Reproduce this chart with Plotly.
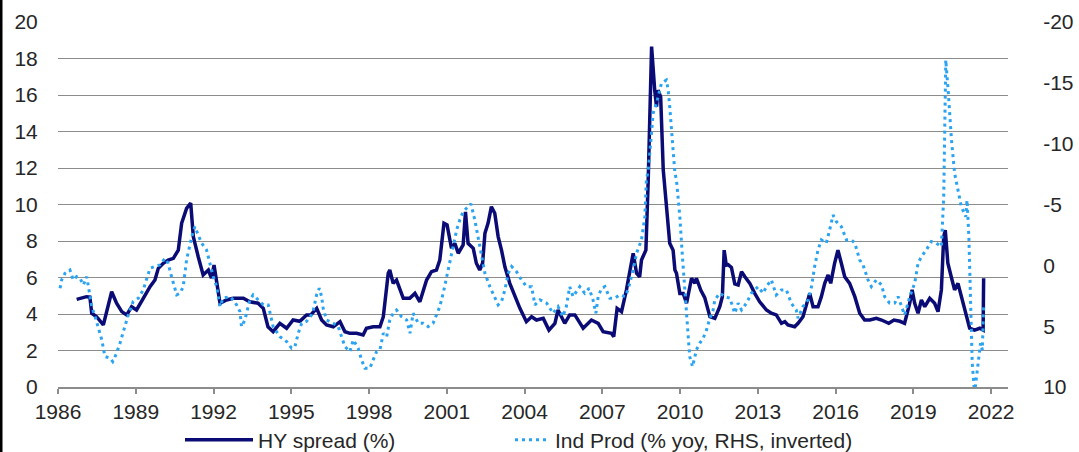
import plotly.graph_objects as go

# HY spread (%), left axis
hy_x = [1986.72, 1986.91, 1987.10, 1987.23, 1987.30, 1987.49, 1987.75, 1988.07, 1988.26, 1988.46,
        1988.65, 1988.84, 1989.03, 1989.29, 1989.55, 1989.74, 1989.87, 1990.06, 1990.25, 1990.45,
        1990.64, 1990.77, 1990.96, 1991.12, 1991.22, 1991.41, 1991.60, 1991.80, 1991.92, 1992.02,
        1992.25, 1992.50, 1992.76, 1993.15, 1993.40, 1993.72, 1993.92, 1994.10, 1994.30, 1994.56,
        1994.82, 1995.07, 1995.33, 1995.59, 1995.75, 1995.98, 1996.17, 1996.36, 1996.62, 1996.88,
        1997.07, 1997.26, 1997.52, 1997.77, 1997.90, 1998.16, 1998.42, 1998.55, 1998.74, 1998.80,
        1998.93, 1999.06, 1999.19, 1999.32, 1999.57, 1999.77, 1999.96, 2000.22, 2000.41, 2000.60,
        2000.73, 2000.89, 2001.01, 2001.18, 2001.31, 2001.44, 2001.63, 2001.72, 2001.82, 2002.02,
        2002.14, 2002.27, 2002.38, 2002.47, 2002.59, 2002.72, 2002.85, 2002.98, 2003.11, 2003.24,
        2003.43, 2003.62, 2003.82, 2004.07, 2004.27, 2004.46, 2004.72, 2004.94, 2005.17, 2005.29,
        2005.55, 2005.74, 2005.94, 2006.26, 2006.58, 2006.84, 2007.03, 2007.35, 2007.44, 2007.57,
        2007.74, 2007.93, 2008.06, 2008.19, 2008.32, 2008.44, 2008.51, 2008.68, 2008.77, 2008.90,
        2009.02, 2009.09, 2009.15, 2009.25, 2009.35, 2009.48, 2009.60, 2009.73, 2009.80, 2009.86,
        2009.99, 2010.12, 2010.25, 2010.44, 2010.57, 2010.63, 2010.80, 2010.95, 2011.15, 2011.34,
        2011.53, 2011.63, 2011.70, 2011.78, 2011.85, 2011.98, 2012.11, 2012.24, 2012.37, 2012.50,
        2012.69, 2012.88, 2013.07, 2013.33, 2013.52, 2013.71, 2013.91, 2014.04, 2014.16, 2014.42,
        2014.55, 2014.74, 2015.00, 2015.13, 2015.32, 2015.45, 2015.58, 2015.71, 2015.81, 2015.96,
        2016.09, 2016.22, 2016.35, 2016.54, 2016.74, 2016.93, 2017.12, 2017.32, 2017.57, 2017.77,
        2018.05, 2018.25, 2018.48, 2018.66, 2018.86, 2018.95, 2019.05, 2019.18, 2019.31, 2019.44,
        2019.63, 2019.82, 2019.95, 2020.08, 2020.17, 2020.23, 2020.33, 2020.46, 2020.59, 2020.72,
        2020.85, 2021.04, 2021.17, 2021.36, 2021.56, 2021.69, 2021.71]
hy_y = [4.80, 4.86, 4.95, 4.93, 4.04, 3.85, 3.40, 5.22, 4.59, 4.13,
        3.95, 4.40, 4.22, 4.86, 5.50, 5.86, 6.50, 6.78, 6.96, 7.05,
        7.50, 8.97, 9.79, 10.07, 8.24, 7.14, 6.14, 6.41, 5.96, 6.68,
        4.59, 4.77, 4.86, 4.86, 4.67, 4.59, 4.31, 3.30, 3.03, 3.49,
        3.22, 3.67, 3.60, 3.95, 3.95, 4.31, 3.67, 3.40, 3.30, 3.58,
        3.03, 2.94, 2.94, 2.85, 3.22, 3.30, 3.30, 3.85, 6.23, 6.41,
        5.68, 5.86, 5.41, 4.86, 4.86, 5.13, 4.67, 5.86, 6.32, 6.41,
        6.96, 8.97, 8.88, 7.60, 7.87, 7.33, 7.78, 9.60, 7.87, 7.60,
        6.78, 6.41, 6.78, 8.42, 8.97, 9.88, 9.52, 8.24, 7.50, 6.59,
        5.68, 4.95, 4.31, 3.58, 3.85, 3.67, 3.76, 3.12, 3.49, 4.22,
        3.49, 3.95, 3.95, 3.22, 3.67, 3.49, 3.03, 2.94, 2.76, 4.31,
        4.13, 5.32, 6.23, 7.33, 6.23, 6.04, 6.96, 7.50, 11.34, 18.65,
        16.27, 15.36, 16.27, 15.90, 11.89, 9.88, 7.87, 7.50, 6.41, 6.23,
        5.13, 5.13, 4.59, 5.96, 5.68, 5.96, 5.30, 4.90, 3.85, 3.76,
        4.40, 4.95, 7.50, 6.68, 6.70, 6.55, 5.65, 5.59, 6.32, 6.04,
        5.68, 5.13, 4.67, 4.22, 4.04, 3.95, 3.49, 3.58, 3.40, 3.30,
        3.49, 3.85, 5.13, 4.40, 4.40, 4.95, 5.68, 6.14, 5.68, 6.78,
        7.50, 6.78, 6.04, 5.68, 4.95, 4.04, 3.67, 3.67, 3.76, 3.67,
        3.49, 3.67, 3.60, 3.49, 4.59, 5.32, 4.59, 4.04, 4.77, 4.40,
        4.86, 4.59, 4.13, 5.32, 8.24, 8.60, 6.78, 6.04, 5.32, 5.68,
        4.95, 3.85, 3.22, 3.12, 3.22, 3.12, 5.96]

# Industrial production (% yoy), right axis inverted
ip_x = [1986.08, 1986.14, 1986.27, 1986.46, 1986.59, 1986.72, 1986.85, 1986.98, 1987.11, 1987.21,
        1987.30, 1987.43, 1987.55, 1987.69, 1987.81, 1988.01, 1988.11, 1988.26, 1988.39, 1988.58,
        1988.71, 1988.90, 1989.10, 1989.29, 1989.55, 1989.74, 1989.93, 1990.13, 1990.25, 1990.38,
        1990.58, 1990.71, 1990.83, 1990.96, 1991.16, 1991.28, 1991.41, 1991.54, 1991.73, 1991.86,
        1991.99, 1992.12, 1992.25, 1992.37, 1992.63, 1992.76, 1992.89, 1993.02, 1993.08, 1993.21,
        1993.40, 1993.53, 1993.72, 1993.92, 1994.11, 1994.30, 1994.56, 1994.82, 1995.01, 1995.14,
        1995.27, 1995.40, 1995.59, 1995.78, 1995.85, 1995.98, 1996.08, 1996.17, 1996.23, 1996.36,
        1996.62, 1996.81, 1996.94, 1997.07, 1997.26, 1997.39, 1997.58, 1997.71, 1997.84, 1998.03,
        1998.16, 1998.29, 1998.42, 1998.55, 1998.68, 1998.80, 1998.93, 1999.06, 1999.25, 1999.45,
        1999.58, 1999.70, 1999.90, 2000.09, 2000.28, 2000.47, 2000.60, 2000.73, 2000.86, 2000.99,
        2001.12, 2001.24, 2001.38, 2001.50, 2001.63, 2001.76, 2001.93, 2002.08, 2002.21, 2002.34,
        2002.47, 2002.66, 2002.85, 2002.98, 2003.11, 2003.24, 2003.37, 2003.50, 2003.69, 2003.88,
        2004.08, 2004.27, 2004.40, 2004.59, 2004.85, 2005.10, 2005.29, 2005.48, 2005.61, 2005.74,
        2005.87, 2006.13, 2006.32, 2006.49, 2006.64, 2006.75, 2006.84, 2006.97, 2007.10, 2007.29,
        2007.48, 2007.67, 2007.87, 2007.99, 2008.19, 2008.32, 2008.51, 2008.64, 2008.70, 2008.77,
        2008.83, 2008.90, 2008.96, 2009.09, 2009.28, 2009.47, 2009.54, 2009.60, 2009.71, 2009.80,
        2009.86, 2009.99, 2010.09, 2010.18, 2010.25, 2010.31, 2010.37, 2010.48, 2010.63, 2010.76,
        2010.89, 2011.02, 2011.14, 2011.27, 2011.34, 2011.53, 2011.72, 2011.92, 2012.04, 2012.11,
        2012.24, 2012.37, 2012.56, 2012.75, 2012.88, 2013.01, 2013.20, 2013.33, 2013.52, 2013.71,
        2013.91, 2014.10, 2014.29, 2014.48, 2014.55, 2014.74, 2014.94, 2015.07, 2015.19, 2015.32,
        2015.45, 2015.64, 2015.77, 2015.90, 2016.03, 2016.22, 2016.42, 2016.61, 2016.74, 2016.93,
        2017.06, 2017.25, 2017.38, 2017.57, 2017.77, 2017.89, 2018.08, 2018.28, 2018.41, 2018.54,
        2018.66, 2018.86, 2019.05, 2019.18, 2019.31, 2019.50, 2019.69, 2019.89, 2020.08, 2020.17,
        2020.21, 2020.25, 2020.34, 2020.47, 2020.59, 2020.72, 2020.85, 2021.02, 2021.07, 2021.14,
        2021.20, 2021.27, 2021.36, 2021.49, 2021.59, 2021.66, 2021.71]
ip_y = [1.88, 1.20, 0.65, 0.38, 1.20, 0.93, 1.06, 1.61, 0.93, 2.16,
        3.39, 4.21, 5.04, 6.13, 7.50, 7.63, 7.91, 7.22, 6.40, 5.04,
        4.08, 2.98, 2.70, 2.02, 0.24, 0.10, -0.03, -0.58, -0.17, 0.93,
        2.43, 2.29, 1.75, -0.44, -2.36, -3.18, -2.50, -1.82, -1.27, -0.03,
        0.93, 1.75, 3.39, 2.70, 2.57, 2.84, 3.25, 3.80, 5.04, 4.49,
        2.84, 2.43, 2.84, 3.25, 3.25, 5.04, 5.86, 6.27, 6.81, 6.68,
        5.58, 4.76, 4.60, 4.08, 3.67, 2.40, 1.88, 2.57, 3.53, 4.49,
        4.76, 5.04, 5.86, 6.68, 7.09, 6.13, 6.81, 7.77, 8.46, 8.46,
        7.77, 7.09, 6.95, 5.58, 5.86, 4.49, 3.94, 3.67, 4.21, 4.49,
        5.58, 3.94, 4.76, 4.76, 5.04, 4.76, 4.08, 3.39, 2.29, 0.93,
        -0.44, -1.54, -2.91, -3.73, -4.41, -4.69, -5.05, -3.73, -2.36, -0.71,
        0.65, 1.75, 2.57, 3.25, 2.98, 2.02, 0.65, 0.10, 0.52, 1.20,
        1.75, 1.75, 3.25, 2.84, 3.10, 3.94, 3.39, 4.21, 3.39, 1.75,
        2.57, 1.75, 2.29, 1.88, 2.84, 3.94, 2.57, 1.88, 1.75, 2.70,
        2.70, 2.43, 2.57, 2.02, 0.38, -0.99, -2.09, -4.00, -7.02, -7.84,
        -9.21, -11.13, -12.50, -13.32, -14.96, -15.23, -14.41, -13.04, -10.30, -7.57,
        -7.02, -4.00, -0.71, 2.02, 3.39, 5.31, 7.50, 8.32, 6.95, 6.40,
        5.99, 5.31, 4.40, 3.70, 2.84, 2.29, 2.57, 2.70, 3.39, 3.94,
        3.11, 3.67, 3.11, 2.29, 2.02, 1.75, 2.29, 1.75, 1.20, 2.43,
        2.02, 2.02, 3.11, 3.67, 4.35, 3.39, 2.84, 1.75, 0.10, -1.27,
        -2.09, -1.82, -2.91, -4.14, -3.59, -3.18, -2.09, -2.09, -1.82, -0.44,
        -0.03, 1.20, 1.75, 1.20, 1.60, 2.57, 3.10, 3.10, 2.57, 3.39,
        4.08, 2.57, 1.47, -0.17, -0.71, -1.27, -1.95, -1.82, -1.54, -5.65,
        -11.13, -16.88, -14.41, -10.30, -7.57, -6.20, -4.82, -4.00, -5.37, -2.36,
        2.57, 8.05, 10.50, 8.05, 6.40, 6.95, 3.39]

x_ticks = [1986, 1989, 1992, 1995, 1998, 2001, 2004, 2007, 2010, 2013, 2016, 2019, 2022]
y_left_ticks = [0, 2, 4, 6, 8, 10, 12, 14, 16, 18, 20]
y_right_ticks = [-20, -15, -10, -5, 0, 5, 10]

FONT = "Liberation Sans, Arial, sans-serif"
TXT = "#262626"
GRID = "#8C8C8C"
FS = 21

fig = go.Figure()
fig.add_trace(go.Scatter(x=hy_x, y=hy_y, mode="lines", name="HY spread (%)", legend="legend",
                         line=dict(color="#0B0B75", width=3.5)))
fig.add_trace(go.Scatter(x=ip_x, y=ip_y, mode="lines", name="Ind Prod (% yoy, RHS, inverted)",
                         yaxis="y2", legend="legend2",
                         line=dict(color="#2AA3F2", width=3, dash="3px,4px")))

L, R, T, B = 58, 71, 22, 65
W, H = 1079, 452
pw = W - L - R
ph = H - T - B
leg_y = -(440 - (T + ph)) / ph

fig.update_layout(
    width=W, height=H,
    margin=dict(l=L, r=R, t=T, b=B, pad=0, autoexpand=False),
    paper_bgcolor="white", plot_bgcolor="white",
    font=dict(family=FONT, size=FS, color=TXT),
    showlegend=True,
    legend=dict(orientation="h", x=(180 - L) / pw, xanchor="left", y=leg_y,
                yanchor="middle", font=dict(size=FS, color=TXT), itemwidth=68,
                bgcolor="rgba(0,0,0,0)"),
    legend2=dict(orientation="h", x=(510 - L) / pw, xanchor="left", y=leg_y,
                 yanchor="middle", font=dict(size=FS, color=TXT), itemwidth=35,
                 bgcolor="rgba(0,0,0,0)"),
    xaxis=dict(range=[1986, 2022.65], tickvals=x_ticks, ticktext=[str(t) for t in x_ticks],
               showgrid=False, zeroline=False, showline=True, linecolor=GRID, linewidth=1.5,
               ticks="outside", ticklen=5, tickwidth=1.5, tickcolor=GRID,
               tickfont=dict(size=FS, color=TXT)),
    yaxis=dict(range=[0, 20], tickvals=y_left_ticks, showgrid=True, gridcolor=GRID, gridwidth=1.4,
               zeroline=False, showline=False, ticks="outside", ticklen=15,
               tickcolor="rgba(0,0,0,0)", tickfont=dict(size=FS, color=TXT)),
    yaxis2=dict(range=[10, -20], tickvals=y_right_ticks, ticktext=[str(t) for t in y_right_ticks],
                overlaying="y", side="right",
                showgrid=False, zeroline=False, showline=False, ticks="outside", ticklen=30,
                tickcolor="rgba(0,0,0,0)", tickfont=dict(size=FS, color=TXT)),
    shapes=[dict(type="rect", xref="paper", yref="paper",
                 x0=-L / pw, x1=(-L + 2.5) / pw, y0=-B / ph - 0.05, y1=1 + T / ph + 0.05,
                 fillcolor="black", line=dict(width=0), layer="above")],
)

fig.write_html("out.html", config={"displayModeBar": False},
               post_script="document.body.style.margin='0';")
